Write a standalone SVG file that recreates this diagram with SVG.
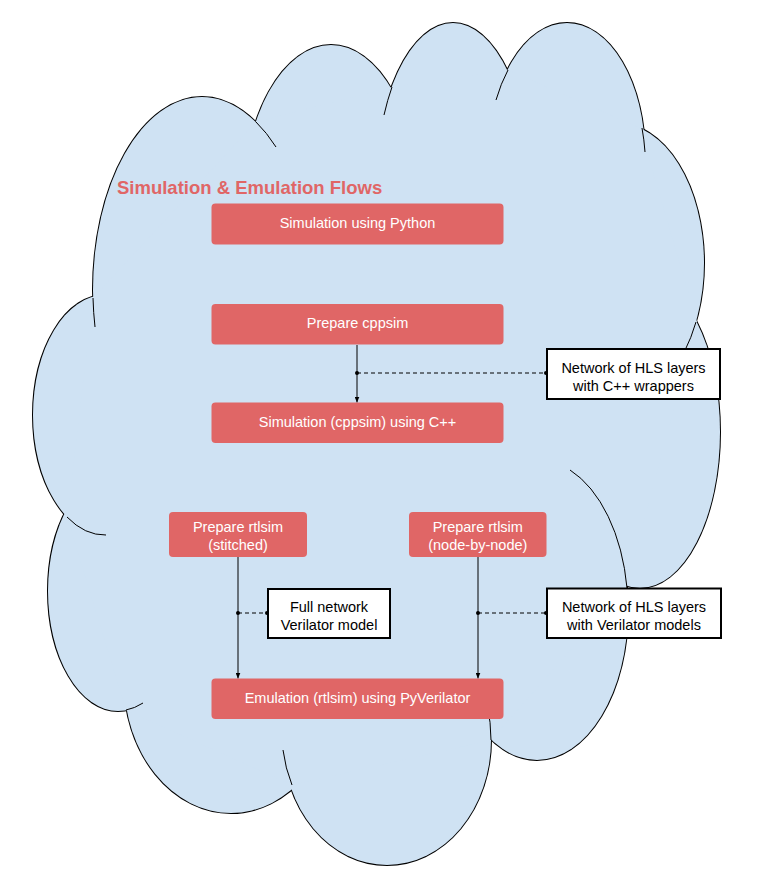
<svg xmlns="http://www.w3.org/2000/svg" width="772" height="893" viewBox="0 0 772 893">
  <defs>
    <style>
      .lobe-line { fill: none; stroke: #000; stroke-width: 2; }
      .lobe-fill { fill: #cfe2f3; stroke: none; }
      .crease { fill: none; stroke: #000; stroke-width: 1; }
      .step rect { fill: #e06666; }
      .step text { fill: #ffffff; font-family: "Liberation Sans", Arial, sans-serif; font-size: 14.5px; text-anchor: middle; }
      .note rect { fill: #ffffff; stroke: #000; stroke-width: 2; }
      .note text { fill: #000; font-family: "Liberation Sans", Arial, sans-serif; font-size: 14.5px; text-anchor: middle; }
      .title { fill: #e06666; font-family: "Liberation Sans", Arial, sans-serif; font-size: 18.5px; font-weight: bold; }
      .flow { fill: none; stroke: #000; stroke-width: 1; }
      .link { fill: none; stroke: #000; stroke-width: 1; stroke-dasharray: 4 3; }
      .dot { fill: #000; }
    </style>
    <marker id="arrow" viewBox="0 0 6 5" markerWidth="6" markerHeight="5" refX="6" refY="2.5" markerUnits="userSpaceOnUse" orient="auto">
      <path d="M0,0 L6,2.5 L0,5 z" fill="#000"/>
    </marker>
    <g id="lobes">
      <ellipse cx="202" cy="290" rx="109" ry="193"/>
      <ellipse cx="331" cy="205" rx="88" ry="160"/>
      <ellipse cx="453" cy="190" rx="78" ry="167"/>
      <ellipse cx="567" cy="155" rx="78" ry="132"/>
      <ellipse cx="617" cy="263" rx="87" ry="140"/>
      <ellipse cx="640" cy="432" rx="80" ry="156"/>
      <ellipse cx="537" cy="610" rx="91" ry="150"/>
      <ellipse cx="387" cy="740" rx="104" ry="125"/>
      <ellipse cx="231" cy="680" rx="107" ry="133"/>
      <ellipse cx="118" cy="591" rx="70" ry="120"/>
      <ellipse cx="105" cy="415" rx="72" ry="120"/>
    </g>
  </defs>

  <!-- cloud background: stroked lobes, then fills hide the inner halves -->
  <g id="cloud">
    <use href="#lobes" class="lobe-line"/>
    <use href="#lobes" class="lobe-fill"/>
    <polygon class="lobe-fill" points="256,122 392,87 508,70 640,128 697,322 627,586 491,740 292,785 126,710 67,517 93,298"/>
    <path class="crease" d="M256,122 A109,193 0 0 1 276,147"/>
    <path class="crease" d="M392,87 A78,167 0 0 0 384,115"/>
    <path class="crease" d="M508,70 A78,132 0 0 0 496,100"/>
    <path class="crease" d="M642,128 A78,132 0 0 1 645,152"/>
    <path class="crease" d="M696,322 A87,140 0 0 1 669,375"/>
    <path class="crease" d="M93,298 A109,193 0 0 0 95,327"/>
    <path class="crease" d="M67,517 A72,120 0 0 0 106,535"/>
    <path class="crease" d="M126,710 A70,120 0 0 0 143,703"/>
    <path class="crease" d="M292,785 A104,125 0 0 1 283,750"/>
    <path class="crease" d="M570,470 A91,150 0 0 1 627,588"/>
    <path class="crease" d="M491,740 A104,125 0 0 0 487,705"/>
  </g>

  <text class="title" x="117" y="194">Simulation &amp; Emulation Flows</text>

  <!-- connectors -->
  <g id="connectors">
    <line class="flow" x1="357" y1="345" x2="357" y2="402.5" marker-end="url(#arrow)"/>
    <line class="flow" x1="238" y1="557" x2="238" y2="678.5" marker-end="url(#arrow)"/>
    <line class="flow" x1="478" y1="557" x2="478" y2="678.5" marker-end="url(#arrow)"/>
    <line class="link" x1="357" y1="373" x2="546" y2="373"/>
    <circle class="dot" cx="357" cy="373" r="2"/>
    <circle class="dot" cx="546" cy="373" r="2"/>
    <line class="link" x1="238" y1="613" x2="267" y2="613"/>
    <circle class="dot" cx="238" cy="613" r="2"/>
    <circle class="dot" cx="267" cy="613" r="2"/>
    <line class="link" x1="478" y1="613" x2="546" y2="613"/>
    <circle class="dot" cx="478" cy="613" r="2"/>
    <circle class="dot" cx="546" cy="613" r="2"/>
  </g>

  <!-- flow steps -->
  <g id="sim-python" class="step">
    <rect x="211.5" y="203.5" width="292" height="41" rx="4"/>
    <text x="357.5" y="228">Simulation using Python</text>
  </g>
  <g id="prepare-cppsim" class="step">
    <rect x="211.5" y="304" width="292" height="40.5" rx="4"/>
    <text x="357.5" y="328">Prepare cppsim</text>
  </g>
  <g id="sim-cppsim" class="step">
    <rect x="211.5" y="402.5" width="292" height="40.5" rx="4"/>
    <text x="357.5" y="426.5">Simulation (cppsim) using C++</text>
  </g>
  <g id="prepare-rtlsim-stitched" class="step">
    <rect x="169" y="512" width="138" height="45" rx="4"/>
    <text x="238" y="531.5">Prepare rtlsim</text>
    <text x="238" y="549.5">(stitched)</text>
  </g>
  <g id="prepare-rtlsim-nodes" class="step">
    <rect x="409" y="512" width="137.5" height="45" rx="4"/>
    <text x="477.8" y="531.5">Prepare rtlsim</text>
    <text x="477.8" y="549.5">(node-by-node)</text>
  </g>
  <g id="emulation" class="step">
    <rect x="211.5" y="678.5" width="292" height="40.5" rx="4"/>
    <text x="357.5" y="702.5">Emulation (rtlsim) using PyVerilator</text>
  </g>

  <!-- artefacts -->
  <g id="cpp-wrappers" class="note">
    <rect x="547" y="349" width="173" height="50"/>
    <text x="633.5" y="372.5">Network of HLS layers</text>
    <text x="633.5" y="390.5">with C++ wrappers</text>
  </g>
  <g id="full-verilator" class="note">
    <rect x="268" y="589" width="122" height="49"/>
    <text x="329" y="611.5">Full network</text>
    <text x="329" y="629.5">Verilator model</text>
  </g>
  <g id="layer-verilator" class="note">
    <rect x="547" y="588.5" width="174" height="49.5"/>
    <text x="634" y="611.5">Network of HLS layers</text>
    <text x="634" y="629.5">with Verilator models</text>
  </g>
</svg>
